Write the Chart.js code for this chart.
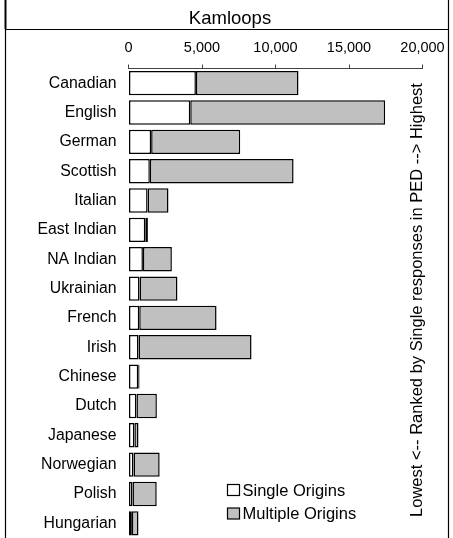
<!DOCTYPE html>
<html>
<head>
<meta charset="utf-8">
<script src="https://cdn.jsdelivr.net/npm/chart.js@4/dist/chart.umd.min.js"></script>
<style>
  html, body { margin: 0; padding: 0; background: #fff; overflow: hidden; }
  #wrap { position: relative; width: 453px; height: 538px; }
</style>
</head>
<body>
<div id="wrap"><canvas id="myChart"></canvas></div>
<script>
// data, ranked by single responses
const categories = ['Canadian', 'English', 'German', 'Scottish', 'Italian', 'East Indian', 'NA Indian',
    'Ukrainian', 'French', 'Irish', 'Chinese', 'Dutch', 'Japanese', 'Norwegian', 'Polish', 'Hungarian'];
const singleOrigins = [4585, 4200, 1540, 1450, 1300, 1140, 980, 750, 730, 680, 660, 540, 400, 340, 270, 230];
const multipleOrigins = [6980, 13260, 6060, 9780, 1420, 180, 1970, 2580, 5260, 7690, 90, 1390, 280, 1780, 1650, 450];
const xTicks = [0, 5000, 10000, 15000, 20000];
const chartTitle = 'Kamloops';
const sideNote = 'Lowest <-- Ranked by Single responses in PED --> Highest';
const legendLabels = ['Single Origins', 'Multiple Origins'];

const FONT = "'Liberation Sans', Arial, sans-serif";
const GREY = '#c0c0c0';

// frame, title, side note and legend drawn on top of the chart
const decorations = {
    id: 'decorations',
    afterDraw(chart) {
        const ctx = chart.ctx;
        const area = chart.chartArea;
        const H = chart.height;
        ctx.save();

        // frame lines
        ctx.strokeStyle = '#000';
        ctx.lineWidth = 2;
        ctx.beginPath();
        ctx.moveTo(5.5, 0); ctx.lineTo(5.5, 29);
        ctx.stroke();
        ctx.lineWidth = 1.2;
        ctx.beginPath();
        ctx.moveTo(5.5, 29); ctx.lineTo(5.5, H);
        ctx.moveTo(5, 29.5); ctx.lineTo(449, 29.5);
        ctx.moveTo(448.5, 0); ctx.lineTo(448.5, H);
        ctx.stroke();

        // title
        ctx.fillStyle = '#000';
        ctx.font = '18.5px ' + FONT;
        ctx.textAlign = 'center';
        ctx.textBaseline = 'alphabetic';
        ctx.fillText(chartTitle, 230, 24);

        // rotated note on the right
        ctx.save();
        ctx.translate(area.right - 1, 300);
        ctx.rotate(-Math.PI / 2);
        ctx.font = '16.5px ' + FONT;
        ctx.textAlign = 'center';
        ctx.textBaseline = 'alphabetic';
        ctx.fillText(sideNote, 0, 0);
        ctx.restore();

        // legend
        const fills = ['#fff', GREY];
        const lx = area.left + 99;
        const rows = [490, 513.5];
        ctx.font = '16.5px ' + FONT;
        ctx.textAlign = 'left';
        ctx.textBaseline = 'middle';
        legendLabels.forEach((txt, i) => {
            const cy = rows[i];
            ctx.fillStyle = fills[i];
            ctx.fillRect(lx, cy - 5.5, 12, 11);
            ctx.strokeStyle = '#000';
            ctx.lineWidth = 1.2;
            ctx.strokeRect(lx, cy - 5.5, 12, 11);
            ctx.fillStyle = '#000';
            ctx.fillText(txt, lx + 15, cy + 1);
        });

        ctx.restore();
    }
};

const ctx = document.getElementById('myChart').getContext('2d');
const myChart = new Chart(ctx, {
    type: 'bar',
    data: {
        labels: categories,
        datasets: [{
            label: legendLabels[0],
            data: singleOrigins,
            backgroundColor: '#fff',
            borderColor: '#000',
            borderWidth: 1.5,
            borderSkipped: false,
            barPercentage: 0.83,
            categoryPercentage: 1
        }, {
            label: legendLabels[1],
            data: multipleOrigins,
            backgroundColor: GREY,
            borderColor: '#000',
            borderWidth: 1.5,
            borderSkipped: false,
            barPercentage: 0.83,
            categoryPercentage: 1
        }]
    },
    options: {
        indexAxis: 'y',
        responsive: true,
        maintainAspectRatio: false,
        animation: false,
        layout: { padding: { left: 0, right: 30.5, top: 0, bottom: 0 } },
        plugins: {
            legend: { display: false },
            title: { display: false },
            tooltip: { enabled: false }
        },
        scales: {
            x: {
                position: 'top',
                stacked: true,
                min: 0,
                max: 20000,
                afterBuildTicks: (scale) => { scale.ticks = xTicks.map(v => ({ value: v })); },
                afterFit: (scale) => { scale.height = 68.5; },
                grid: { drawOnChartArea: false, drawTicks: true, tickLength: 4, color: '#444' },
                border: { display: true, color: '#444', width: 1 },
                ticks: {
                    padding: 8,
                    color: '#000',
                    font: { family: FONT, size: 14.5 },
                    maxRotation: 0,
                    callback: (v) => Number(v).toLocaleString('en-US')
                }
            },
            y: {
                stacked: true,
                afterFit: (scale) => {
                    scale.width = 128.5;
                    scale.paddingTop = 0;
                    scale.paddingBottom = 0;
                },
                grid: { display: false, drawTicks: false },
                border: { display: false },
                ticks: {
                    padding: 12,
                    color: '#000',
                    font: { family: FONT, size: 15.8 },
                    autoSkip: false
                }
            }
        }
    },
    plugins: [decorations]
});
</script>
</body>
</html>
